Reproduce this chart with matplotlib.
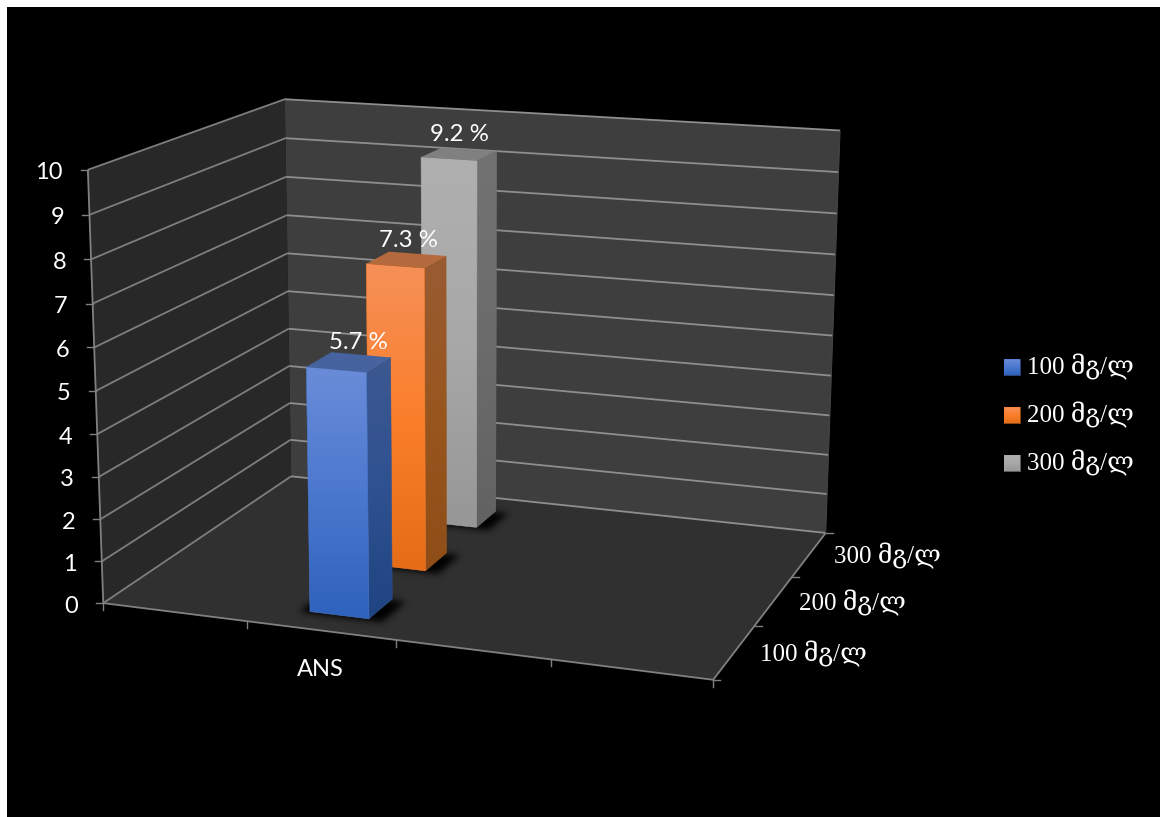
import numpy as np
import matplotlib
matplotlib.use("Agg")
import matplotlib.pyplot as plt
from matplotlib.colors import to_rgb
from matplotlib.patches import Polygon, Rectangle
from matplotlib.path import Path

# values
categories = ["", "ANS", "", ""]
series = ["100 მგ/ლ", "200 მგ/ლ", "300 მგ/ლ"]
values = [5.7, 7.3, 9.2]
value_labels = ["5.7 %", "7.3 %", "9.2 %"]
y_ticks = list(range(0, 11))

# colours per series: front gradient stops, side gradient stops, top
front_colors = [["#6a8cd8", "#4b78cf", "#2e62bc"],
                ["#f69058", "#fb7f2b", "#e56d18"],
                ["#b0b0b0", "#a8a8a8", "#979797"]]
side_colors = [["#3c5891", "#2f5190", "#1f4481"],
               ["#985b32", "#99561f", "#8f4d17"],
               ["#727272", "#6c6c6c", "#626262"]]
top_colors = ["#47639f", "#b56a3d", "#808080"]

LABEL_FONT = ["Lato", "DejaVu Sans"]
GEO_FONT = ["Liberation Serif", "DejaVu Serif", "DejaVu Sans"]
GRID = "#8e8e8e"
AXIS = "#808080"
BAR_GAP = 0.3

# chart box corners as (category, depth, value) -> pixel, used to solve the camera
n_cat = len(categories)
n_depth = len(series)
z_max = y_ticks[-1]
box_world = [(0, 0, 0), (0, n_depth, 0), (n_cat, n_depth, 0), (n_cat, 0, 0),
             (0, 0, z_max), (0, n_depth, z_max), (n_cat, n_depth, z_max)]
box_pixels = [(103.3, 602.7), (291, 476.7), (825.7, 532.7), (713.3, 680),
              (87.7, 170), (285, 99), (840, 130.5)]


def solve_camera(world, pixels):
    rows = []
    for (x, y, z), (u, v) in zip(world, pixels):
        rows.append([x, y, z, 1, 0, 0, 0, 0, -u * x, -u * y, -u * z, -u])
        rows.append([0, 0, 0, 0, x, y, z, 1, -v * x, -v * y, -v * z, -v])
    _, _, vt = np.linalg.svd(np.array(rows, dtype=float))
    return vt[-1].reshape(3, 4)


CAMERA = solve_camera(box_world, box_pixels)


def project(x, y, z):
    u, v, w = CAMERA @ np.array([x, y, z, 1.0])
    return u / w, v / w


def face(points):
    return [project(*p) for p in points]


def gradient_poly(ax, pts, stops, zorder):
    # vertical colour ramp clipped to a polygon
    pts = np.array(pts)
    rgb = np.array([to_rgb(c) for c in stops])
    t = np.linspace(0, 1, 128)
    pos = np.linspace(0, 1, len(stops))
    ramp = np.stack([np.interp(t, pos, rgb[:, i]) for i in range(3)], axis=1)[:, None, :]
    extent = (pts[:, 0].min(), pts[:, 0].max(), pts[:, 1].max(), pts[:, 1].min())
    im = ax.imshow(ramp, extent=extent, aspect="auto", zorder=zorder, interpolation="bilinear")
    im.set_clip_path(Polygon(pts, closed=True, transform=ax.transData))
    # thin edge of the mean colour hides the jagged clip
    ax.add_patch(Polygon(pts, closed=True, fill=False, ec=stops[1], lw=0.4, zorder=zorder))


def soft_shadow(ax, pts, sigma, strength, zorder):
    # rasterise the floor outline and blur it into a black alpha image
    pts = np.array(pts)
    pad = int(4 * sigma)
    left, right = int(pts[:, 0].min()) - pad, int(pts[:, 0].max()) + pad
    top, bottom = int(pts[:, 1].min()) - pad, int(pts[:, 1].max()) + pad
    xs, ys = np.meshgrid(np.arange(left, right) + 0.5, np.arange(top, bottom) + 0.5)
    inside = Path(pts).contains_points(np.column_stack([xs.ravel(), ys.ravel()]))
    mask = inside.reshape(xs.shape).astype(float)
    kx = np.arange(-pad, pad + 1)
    kernel = np.exp(-kx ** 2 / (2 * sigma ** 2))
    kernel /= kernel.sum()
    mask = np.apply_along_axis(lambda r: np.convolve(r, kernel, mode="same"), 0, mask)
    mask = np.apply_along_axis(lambda r: np.convolve(r, kernel, mode="same"), 1, mask)
    rgba = np.zeros(mask.shape + (4,))
    rgba[..., 3] = np.clip(mask * strength, 0, 1)
    ax.imshow(rgba, extent=(left, right, bottom, top), aspect="auto", zorder=zorder, interpolation="bilinear")


def line3(ax, a, b, color=GRID, lw=1.3, zorder=2):
    p, q = project(*a), project(*b)
    ax.plot([p[0], q[0]], [p[1], q[1]], color=color, lw=lw, zorder=zorder, solid_capstyle="butt")


fig = plt.figure(figsize=(11.67, 8.17), dpi=100, facecolor="white")
ax = fig.add_axes([0, 0, 1, 1])
ax.set_axis_off()
ax.add_patch(Rectangle((7, 7), 1153, 810, fc="black", ec="none", zorder=0))

# walls and floor
ax.add_patch(Polygon(face([(0, 0, 0), (0, n_depth, 0), (0, n_depth, z_max), (0, 0, z_max)]),
                     fc="#282828", ec="none", zorder=1))
ax.add_patch(Polygon(face([(0, n_depth, 0), (n_cat, n_depth, 0), (n_cat, n_depth, z_max), (0, n_depth, z_max)]),
                     fc="#3e3e3e", ec="none", zorder=1))
ax.add_patch(Polygon(face([(0, 0, 0), (n_cat, 0, 0), (n_cat, n_depth, 0), (0, n_depth, 0)]),
                     fc="#303030", ec="none", zorder=1))

# gridlines on both walls
for z in y_ticks:
    line3(ax, (0, 0, z), (0, n_depth, z), color="#7e7e7e")
    line3(ax, (0, n_depth, z), (n_cat, n_depth, z))

# axes lines
line3(ax, (0, 0, 0), (0, 0, z_max), color=AXIS)
line3(ax, (0, 0, 0), (n_cat, 0, 0), color=AXIS)
line3(ax, (n_cat, 0, 0), (n_cat, n_depth, 0), color=AXIS)
line3(ax, (n_cat, n_depth, 0), (n_cat, n_depth, z_max), color="#464646", lw=0.7)

# tick marks
for z in y_ticks:
    u, v = project(0, 0, z)
    ax.plot([u - 7, u], [v, v], color=AXIS, lw=1.0, zorder=2)
    ax.text(u - 25, v + 3, str(z), color="white", ha="right", va="center",
            fontsize=17, family=LABEL_FONT, zorder=6)
for i in range(n_cat + 1):
    u, v = project(i, 0, 0)
    ax.plot([u, u], [v, v + 7], color=AXIS, lw=1.0, zorder=2)
for i in range(n_depth + 1):
    u, v = project(n_cat, i, 0)
    ax.plot([u, u + 7], [v, v], color=AXIS, lw=1.0, zorder=2)

# category and depth labels
for i, name in enumerate(categories):
    if name:
        u, v = project(i + 0.5, 0, 0)
        ax.text(u, v + 39, name, color="white", ha="center", va="center",
                fontsize=17, family=LABEL_FONT, zorder=6)
for i, name in enumerate(series):
    u, v = project(n_cat, i + 0.5, 0)
    ax.text(u + 25, v + 2, name, color="white", ha="left", va="center",
            fontsize=18, family=GEO_FONT, zorder=6)

# bars, back to front so the nearer ones overlap
bar_cat = categories.index("ANS")
x0, x1 = bar_cat + BAR_GAP, bar_cat + 1 - BAR_GAP
label_dx = [10, 2, 0]
for i in reversed(range(n_depth)):
    y0, y1 = i + BAR_GAP, i + 1 - BAR_GAP
    h = values[i]
    zo = 3 + (n_depth - i)
    soft_shadow(ax, face([(x0 - 0.06, y0 - 0.03, 0), (x1 + 0.10, y0 - 0.03, 0),
                          (x1 + 0.10, y1 - 0.02, 0), (x0 - 0.06, y1 - 0.02, 0)]),
                sigma=3.5, strength=1.0, zorder=zo)
    gradient_poly(ax, face([(x1, y0, 0), (x1, y1, 0), (x1, y1, h), (x1, y0, h)]), side_colors[i], zo + 0.1)
    gradient_poly(ax, face([(x0, y0, 0), (x1, y0, 0), (x1, y0, h), (x0, y0, h)]), front_colors[i], zo + 0.2)
    ax.add_patch(Polygon(face([(x0, y0, h), (x1, y0, h), (x1, y1, h), (x0, y1, h)]),
                         fc=top_colors[i], ec="none", zorder=zo + 0.3))
    u, v = project(bar_cat + 0.5, i + 0.5, h)
    ax.text(u + label_dx[i], v - 19.5, value_labels[i], color="white", ha="center", va="center",
            fontsize=17.3, family=LABEL_FONT, zorder=8)

# legend
for i, name in enumerate(series):
    top = 359 + i * 48
    gradient_poly(ax, [(1004, top), (1020, top), (1020, top + 16), (1004, top + 16)], front_colors[i], 6)
    ax.text(1027, top + 8, name, color="white", ha="left", va="center",
            fontsize=18, family=GEO_FONT, zorder=6)

ax.set_xlim(0, 1167)
ax.set_ylim(817, 0)
fig.savefig("out.png", dpi=100, facecolor="white")
